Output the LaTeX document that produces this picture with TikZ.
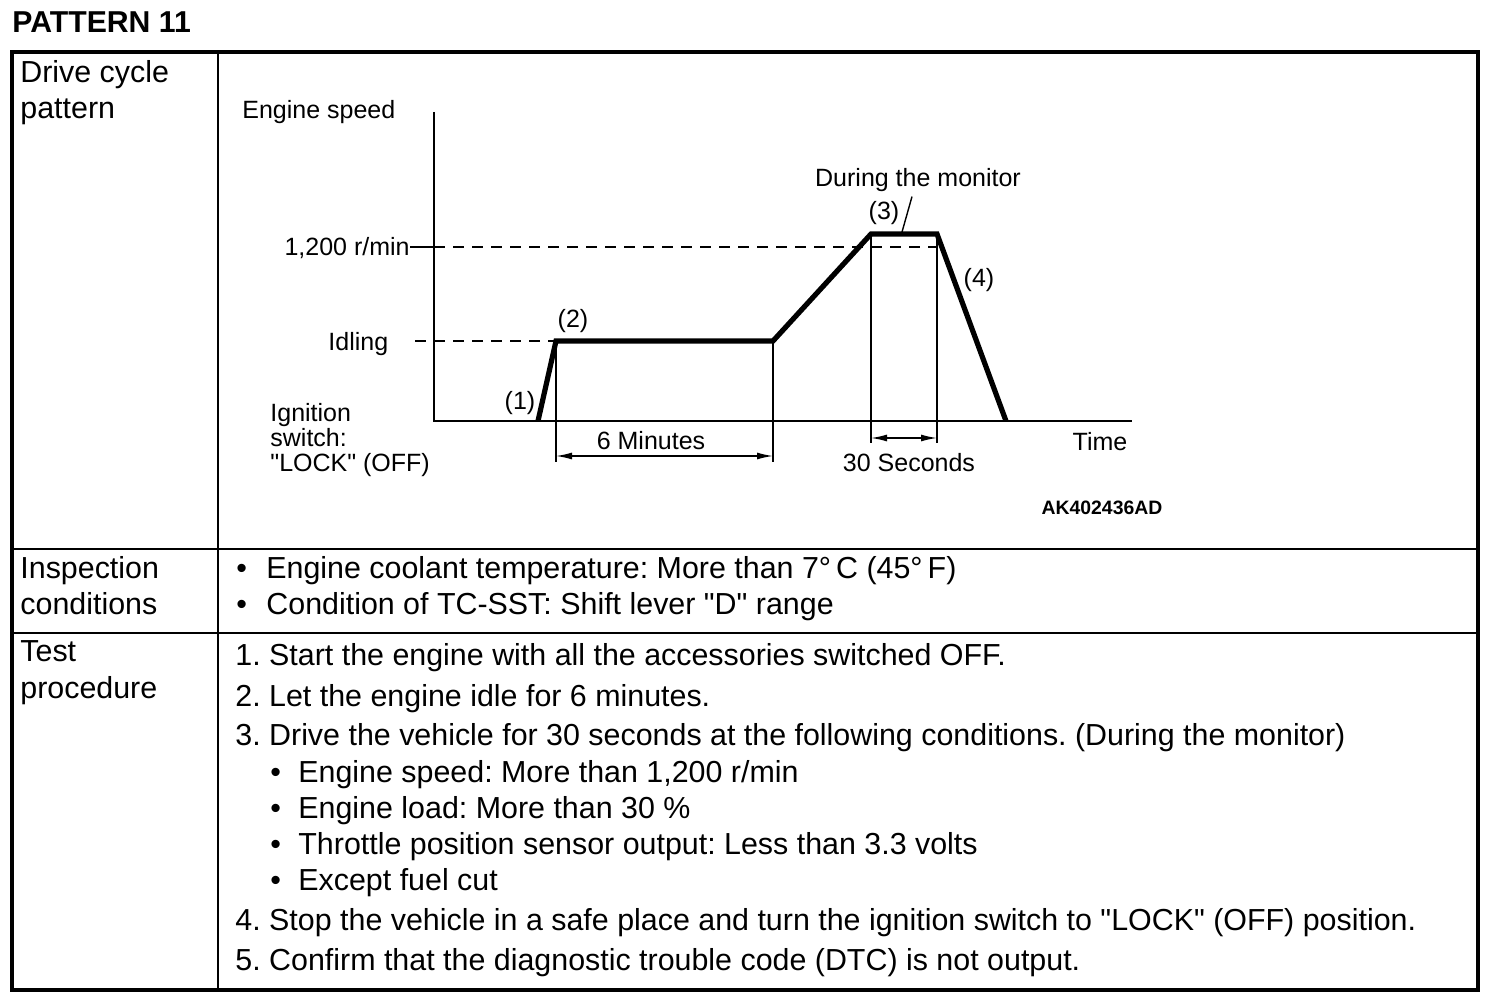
\documentclass[tikz,border=0pt]{standalone}
\usepackage{fontspec}
\setmainfont{Liberation Sans}[Ligatures=TeXOff]
\usetikzlibrary{arrows.meta,positioning}
\frenchspacing

\begin{document}
\begin{tikzpicture}[
	x = 0.5pt, y = -0.5pt, % one unit per pixel, y running down
	> = {Latex[length=8pt, width=3.5pt]}, % arrow head style
	frame/.style={line width=1.6pt},
	rule/.style={line width=1pt},
	axis/.style={line width=1.2pt},
	speed/.style={line width=2.6pt, line join=miter},
	guide/.style={line width=0.7pt},
	level/.style={line width=0.8pt, dash pattern=on 5.5pt off 4pt},
	cell/.style={anchor=base west, inner sep=0pt, font=\fontsize{15.2}{18}\selectfont},
	lbl/.style={inner sep=0pt, font=\fontsize{12.5}{15}\selectfont},
	]

	\useasboundingbox (0,0) rectangle (1504,1004);

	% Table frame and rules
	\node[anchor=base west, inner sep=0pt, font=\bfseries\fontsize{15.1}{17}\selectfont] (title) at (12,33) {PATTERN 11};
	\coordinate (tl) at (12,52);
	\coordinate (br) at (1478,990);
	\coordinate (col) at (218,52);
	\coordinate (rowA) at (12,549);
	\coordinate (rowB) at (12,633);

	\draw[frame] (tl) rectangle (br);
	\draw[rule] (col) -- (col |- br);
	\draw[rule] (rowA) -- (rowA -| br);
	\draw[rule] (rowB) -- (rowB -| br);

	% Left column
	\node[cell] (drive)   at (20,83)  {Drive cycle};
	\node[cell] (pattern) at (20,119) {pattern};
	\node[cell] (insp)    at (20,579) {Inspection};
	\node[cell] (cond)    at (20,615) {conditions};
	\node[cell] (test)    at (20,662) {Test};
	\node[cell] (proc)    at (20,698) {procedure};

	% Inspection conditions
	\node[cell] (ib1) at (236,579) {•};
	\node[cell] (ic1) at (266,579) {Engine coolant temperature: More than 7°\,C (45°\,F)};
	\node[cell] (ib2) at (236,615) {•};
	\node[cell] (ic2) at (266,615) {Condition of TC-SST: Shift lever "D" range};

	% Test procedure
	\node[cell] (tp1) at (235,666) {1. Start the engine with all the accessories switched OFF.};
	\node[cell] (tp2) at (235,706) {2. Let the engine idle for 6 minutes.};
	\node[cell] (tp3) at (235,746) {3. Drive the vehicle for 30 seconds at the following conditions. (During the monitor)};
	\node[cell] (sb1) at (270,782) {•};
	\node[cell] (sc1) at (298,782) {Engine speed: More than 1,200 r/min};
	\node[cell] (sb2) at (270,818) {•};
	\node[cell] (sc2) at (298,818) {Engine load: More than 30 \%};
	\node[cell] (sb3) at (270,854) {•};
	\node[cell] (sc3) at (298,854) {Throttle position sensor output: Less than 3.3 volts};
	\node[cell] (sb4) at (270,890) {•};
	\node[cell] (sc4) at (298,890) {Except fuel cut};
	\node[cell] (tp4) at (235,930) {4. Stop the vehicle in a safe place and turn the ignition switch to "LOCK" (OFF) position.};
	\node[cell] (tp5) at (235,970) {5. Confirm that the diagnostic trouble code (DTC) is not output.};

	% Graph points
	\coordinate (O)    at (434,421);
	\coordinate (ytop) at (434,112);
	\coordinate (xend) at (1132,421);
	\coordinate (c1) at (538,421);
	\coordinate (c2) at (556,341);
	\coordinate (c3) at (773,341);
	\coordinate (c4) at (871,234);
	\coordinate (c5) at (937,234);
	\coordinate (c6) at (1006,421);
	\coordinate (hi) at (434,247);
	\coordinate (lo) at (415,341);
	\coordinate (dimA) at (0,456);
	\coordinate (extA) at (0,462);
	\coordinate (dimB) at (0,438);
	\coordinate (extB) at (0,443);
	\coordinate (lead) at (902,232);

	% Graph labels
	\node[lbl, anchor=base west] (espeed) at (242,119) {Engine speed};
	\node[lbl, anchor=base east] (r1200)  at (410,256) {1,200 r/min};
	\node[lbl, anchor=base west] (idle)   at (328,351) {Idling};
	\node[lbl, anchor=base west] (ign1)   at (270,422) {Ignition};
	\node[lbl, anchor=base west] (ign2)   at (270,447) {switch:};
	\node[lbl, anchor=base west] (ign3)   at (270,472) {"LOCK" (OFF)};
	\node[lbl] (p1) at (520,403) {(1)};
	\node[lbl] (p2) at (573,321) {(2)};
	\node[lbl] (p3) at (884,213) {(3)};
	\node[lbl] (p4) at (979,280) {(4)};
	\node[lbl, anchor=base] (mon)   at (918,187)  {During the monitor};
	\node[lbl, anchor=base] (six)   at (651,450)  {6 Minutes};
	\node[lbl, anchor=base] (sec)   at (909,472)  {30 Seconds};
	\node[lbl, anchor=base] (time)  at (1100,451) {Time};
	\node[anchor=base, inner sep=0pt, font=\bfseries\fontsize{9.7}{11}\selectfont] (code) at (1102,515) {AK402436AD};

	% Axes and levels
	\draw[axis] (ytop) -- (O) -- (xend);
	\draw[guide] (r1200.east |- hi) -- (hi);
	\draw[level] (hi) -- (hi -| c5);
	\draw[level] (lo) -- (c2);

	% Engine speed trace
	\draw[speed] (c1) -- (c2) -- (c3) -- (c4) -- (c5) -- (c6);

	% Time spans
	\draw[guide] (c2) -- (c2 |- extA);
	\draw[guide] (c3) -- (c3 |- extA);
	\draw[guide, <->] (c2 |- dimA) -- (c3 |- dimA);
	\draw[guide] (c4) -- (c4 |- extB);
	\draw[guide] (c5) -- (c5 |- extB);
	\draw[guide, <->] (c4 |- dimB) -- (c5 |- dimB);
	\draw[guide] ([xshift=-3pt, yshift=-2pt]mon.south) -- (lead);

\end{tikzpicture}
\end{document}
